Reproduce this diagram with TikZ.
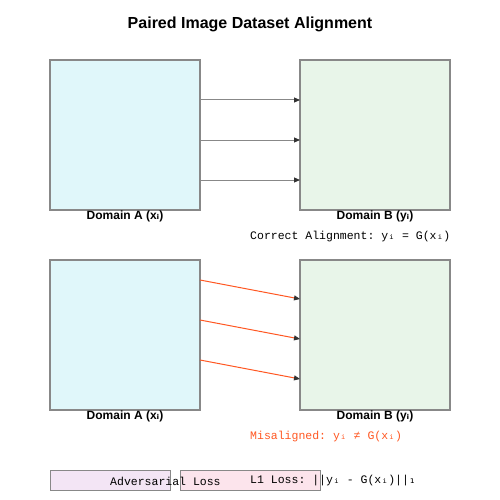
\documentclass[tikz,border=0pt]{standalone}
\usepackage{fontspec}
\setmainfont{Liberation Sans}
\setmonofont{Liberation Mono}
\newfontfamily\dvsans{DejaVu Sans}
\newfontfamily\dvmono{DejaVu Sans Mono}
\usetikzlibrary{arrows.meta}
\definecolor{bordergray}{HTML}{888888}
\definecolor{fillA}{HTML}{E0F7FA}
\definecolor{fillB}{HTML}{E8F5E9}
\definecolor{fillAdv}{HTML}{F3E5F5}
\definecolor{fillL}{HTML}{FCE4EC}
\definecolor{misred}{HTML}{FF5722}
\definecolor{headdark}{HTML}{333333}
\newcommand{\subi}{{\dvsans ᵢ}}
\newcommand{\msubi}{{\dvmono ᵢ}}
\newcommand{\msubone}{{\dvmono ₁}}
\tikzset{
  domainbox/.style={draw=bordergray, line width=1.2pt, minimum width=150pt, minimum height=150pt, inner sep=0pt},
  domlabel/.style={font=\fontsize{12}{14}\selectfont\bfseries, inner sep=0pt},
  monolabel/.style={font=\ttfamily\fontsize{11.5}{13}\selectfont, inner sep=0pt, anchor=west},
  lossbox/.style={draw=bordergray, line width=1.2pt, inner sep=0pt, anchor=north west},
  goodarrow/.style={draw=bordergray, line width=1pt, -{Triangle[length=6pt,width=5pt,color=headdark]}},
  badarrow/.style={draw=misred, line width=1pt, -{Triangle[length=6pt,width=5pt,color=headdark]}},
}
\begin{document}
\begin{tikzpicture}[x=1pt,y=-1pt]
\useasboundingbox (0,0) rectangle (500,500);
\node[font=\fontsize{16}{19}\selectfont\bfseries] (title) at (250,24) {Paired Image Dataset Alignment};
% top row
\node[domainbox, fill=fillA] (A1) at (125,135) {};
\node[domainbox, fill=fillB] (B1) at (375,135) {};
\node[domlabel] (LA1) at (125,216) {Domain A (x\subi)};
\node[domlabel] (LB1) at (375,216) {Domain B (y\subi)};
\coordinate (a1s) at (200,100); \coordinate (a1e) at (300,100);
\coordinate (a2s) at (200,140); \coordinate (a2e) at (300,140);
\coordinate (a3s) at (200,180); \coordinate (a3e) at (300,180);
\draw[goodarrow] (a1s) -- (a1e);
\draw[goodarrow] (a2s) -- (a2e);
\draw[goodarrow] (a3s) -- (a3e);
\node[monolabel] (correct) at (250,237) {Correct Alignment: y\msubi{} = G(x\msubi{})};
% bottom row
\node[domainbox, fill=fillA] (A2) at (125,335) {};
\node[domainbox, fill=fillB] (B2) at (375,335) {};
\node[domlabel] (LA2) at (125,416) {Domain A (x\subi)};
\node[domlabel] (LB2) at (375,416) {Domain B (y\subi)};
\coordinate (b1s) at (200,280); \coordinate (b1e) at (300,299);
\coordinate (b2s) at (200,320); \coordinate (b2e) at (300,339);
\coordinate (b3s) at (200,360); \coordinate (b3e) at (300,379);
\draw[badarrow] (b1s) -- (b1e);
\draw[badarrow] (b2s) -- (b2e);
\draw[badarrow] (b3s) -- (b3e);
\node[monolabel, text=misred] (mis) at (250,437) {Misaligned: y\msubi{} ≠ G(x\msubi{})};
% losses
\node[lossbox, fill=fillAdv, minimum width=120pt, minimum height=20pt] (adv) at (50,470) {};
\node[lossbox, fill=fillL, minimum width=140pt, minimum height=20pt] (l1) at (180,470) {};
\node[monolabel] (advt) at (110,481) {Adversarial Loss};
\node[monolabel] (l1t) at (250,481) {L1 Loss: ||y\msubi{} - G(x\msubi{})||\msubone};
\end{tikzpicture}
\end{document}
